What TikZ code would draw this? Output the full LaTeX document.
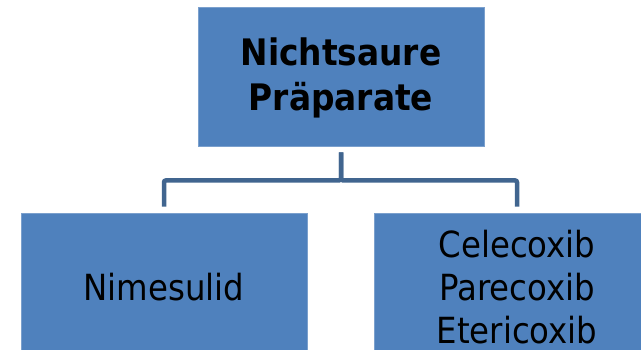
\documentclass[tikz,border=0pt]{standalone}
\usepackage{fontspec}
\setmainfont{DejaVu Sans Condensed}
\definecolor{boxfill}{HTML}{4F81BD}
\definecolor{boxedge}{HTML}{7BA0CD}
\definecolor{linecol}{HTML}{41658F}
\begin{document}
\begin{tikzpicture}[x=1pt,y=-1pt,
  orgbox/.style={draw=boxedge,line width=0.8pt,fill=boxfill,minimum width=286pt,inner sep=0pt,align=center,font=\fontsize{36}{43}\selectfont},
  conn/.style={draw=linecol,line width=4.5pt,rounded corners=2pt,shorten <=6pt,shorten >=6pt}]
\clip (0,0) rectangle (641,350);
\node[orgbox,minimum height=139pt,text depth=4pt,font=\bfseries\fontsize{36.5}{45}\selectfont] (top) at (341,76.5) {Nichtsaure\\Präparate};
\node[orgbox,minimum height=148pt] (left) at (164,287) {Nimesulid};
\node[orgbox,minimum height=148pt] (right) at (517,287) {Celecoxib\\Parecoxib\\Etericoxib};
\draw[conn] (top.south) -- ++(0,34) -| (left.north);
\draw[conn] (top.south) -- ++(0,34) -| (right.north);
\end{tikzpicture}
\end{document}
